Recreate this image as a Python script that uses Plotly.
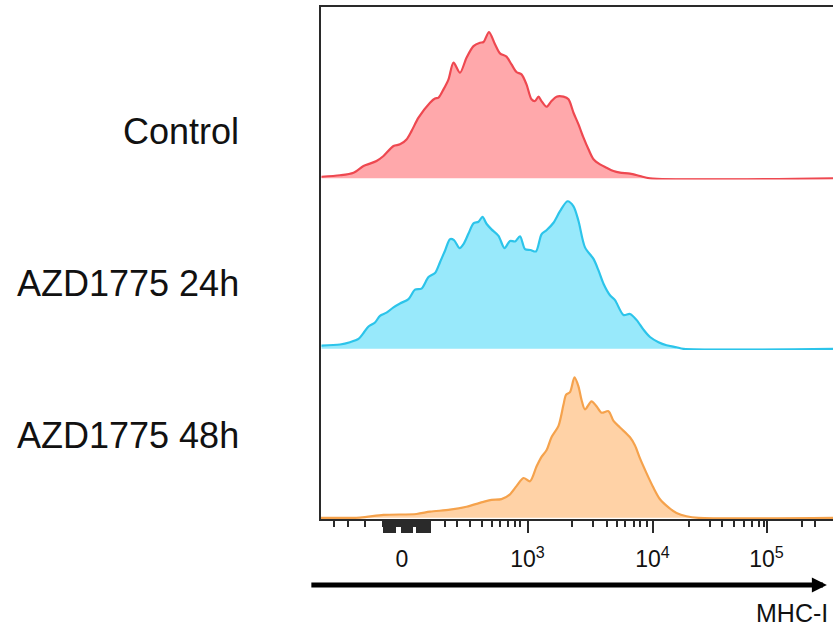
import plotly.graph_objects as go
from plotly.subplots import make_subplots

# Display channel (0-1024 across the plot width, biexponential display)
# and histogram height (% of mode)
ctrl_x = [1, 38, 65, 85, 98, 111, 125, 145, 158, 171, 181, 195, 218, 228, 235, 245, 255, 265, 278, 291,
          305, 318, 325, 336, 348, 358, 371, 381, 391, 401, 411, 421, 428, 435, 441, 451, 461, 471, 485, 495,
          505, 515, 525, 535, 545, 558, 571, 585, 598, 618, 638, 658, 1024]
ctrl_y = [1.1, 2.1, 3.9, 8.5, 10.1, 11.9, 15.3, 22.2, 23.3, 26.7, 32.4, 41.6, 51.9, 54.8, 55.3, 61.0, 67.9, 79.3, 72.4, 82.7,
          90.7, 93.0, 93.5, 100.3, 91.9, 85.7, 83.5, 78.1, 72.9, 71.3, 64.4, 54.2, 53.0, 56.0, 53.0, 49.1, 53.0, 56.0, 56.0, 54.2,
          45.0, 37.0, 27.9, 19.9, 13.1, 9.6, 7.3, 5.0, 3.9, 3.2, 1.6, 0, 0]

azd24_x = [1, 38, 58, 75, 85, 95, 108, 118, 131, 145, 158, 175, 188, 201, 215, 228, 238, 248, 258, 266,
           277, 285, 295, 305, 315, 323, 331, 341, 355, 367, 378, 388, 398, 408, 419, 430, 441, 451, 465, 478,
           493, 505, 515, 528, 545, 555, 565, 578, 588, 605, 618, 631, 645, 658, 675, 691, 711, 725, 1024]
azd24_y = [2.3, 3.0, 4.6, 6.9, 11.0, 15.5, 18.3, 22.9, 25.1, 28.8, 31.5, 34.5, 41.1, 41.8, 49.8, 52.6, 60.1, 68.1, 76.1, 75.4,
           69.9, 72.7, 80.0, 87.1, 88.2, 91.6, 86.8, 82.9, 78.4, 69.9, 74.9, 74.5, 78.1, 69.2, 68.6, 67.6, 79.5, 82.3, 87.5, 95.5,
           102.4, 98.9, 88.7, 70.4, 62.4, 54.4, 45.2, 37.2, 33.8, 23.5, 24.2, 20.1, 13.3, 8.2, 4.6, 2.5, 1.1, 0, 0]

azd48_x = [0, 78, 125, 191, 218, 258, 291, 325, 341, 361, 378, 391, 405, 418, 431, 441, 451, 461, 475, 485, 490,
           498, 507, 515, 521, 528, 541, 551, 561, 575, 585, 598, 618, 628, 638, 651, 665, 678, 695, 711, 731,
           755, 1024]
azd48_y = [0, 0.2, 2.1, 2.7, 4.3, 5.7, 7.8, 11.2, 12.6, 13.1, 16.5, 22.2, 27.9, 25.6, 35.9, 42.7, 47.3, 56.4, 64.4, 79.3, 86.1,
           88.0, 98.3, 91.9, 82.7, 75.9, 81.6, 78.1, 73.6, 74.7, 67.9, 63.3, 56.4, 50.7, 41.6, 31.3, 21.0, 13.0, 7.3, 3.4, 1.1,
           0, 0]

sample_names = ["Control", "AZD1775 24h", "AZD1775 48h"]
line_colors = ["#EE4850", "#2CC4EA", "#F5A24C"]
fill_colors = ["#FFA8AB", "#98E9FB", "#FFD2A6"]

# axis ticks (display channel)
major_tickvals = [162, 413, 663, 891]
major_ticktext = ["0", "10<sup>3</sup>", "10<sup>4</sup>", "10<sup>5</sup>"]
near_zero_long = list(range(125, 149, 2)) + list(range(163, 182, 2)) + list(range(191, 218, 2))
minor_tickvals = ([26, 54, 88] + list(range(124, 219, 2)) +
                  [248, 272, 298, 322, 342, 358, 374, 388, 398] +
                  [501, 544, 571, 591, 608, 625, 638, 651] +
                  [735, 778, 801, 825, 845, 861, 875, 885] +
                  [961, 988])

series = [(ctrl_x, ctrl_y), (azd24_x, azd24_y), (azd48_x, azd48_y)]

fig = make_subplots(rows=3, cols=1, shared_xaxes=True, vertical_spacing=0,
                    row_heights=[172.5, 170.5, 169])
for i, (xs, ys) in enumerate(series):
    fig.add_trace(go.Scatter(
        x=xs, y=ys, mode="lines", fill="tozeroy",
        line=dict(color=line_colors[i], width=2.2, shape="spline", smoothing=0.8),
        fillcolor=fill_colors[i], showlegend=False, hoverinfo="skip"),
        row=i + 1, col=1)

FONT = "Liberation Sans, Arial, sans-serif"
frame = "#2a2a2a"

for r in (1, 2, 3):
    fig.update_yaxes(range=[-0.8, 117.5], showticklabels=False, ticks="", showgrid=False,
                     zeroline=False, showline=True, linecolor=frame, linewidth=1.5,
                     row=r, col=1)
    fig.update_xaxes(range=[0, 1024], showgrid=False, zeroline=False, row=r, col=1)

fig.update_xaxes(side="top", showline=True, linecolor=frame, linewidth=1.5,
                 ticks="", showticklabels=False, row=1, col=1)
fig.update_xaxes(showline=False, ticks="", showticklabels=False, row=2, col=1)

tickvals = major_tickvals + near_zero_long
ticktext = major_ticktext + [""] * len(near_zero_long)
fig.update_xaxes(showline=True, linecolor=frame, linewidth=1.5,
                 tickmode="array", tickvals=tickvals, ticktext=ticktext,
                 ticks="outside", ticklen=12, tickwidth=1.5, tickcolor=frame,
                 ticklabelstandoff=7,
                 tickfont=dict(family=FONT, size=23, color="#111"),
                 minor=dict(tickmode="array", tickvals=minor_tickvals, ticks="outside",
                            ticklen=6, tickwidth=1.5, tickcolor=frame, showgrid=False),
                 row=3, col=1)

label_y = [0.757, 0.459, 0.164]
annotations = []
for name, yy in zip(sample_names, label_y):
    annotations.append(dict(text=name, x=-0.156, y=yy, xref="paper", yref="paper",
                            xanchor="right", yanchor="middle", showarrow=False,
                            font=dict(family=FONT, size=36, color="#111")))

annotations.append(dict(text="", x=0.988, y=-0.129, xref="paper", yref="paper",
                        ax=-517, ay=0, axref="pixel", ayref="pixel", showarrow=True,
                        arrowhead=2, arrowsize=0.6, arrowwidth=5, arrowcolor="#000",
                        standoff=0, startstandoff=0))
annotations.append(dict(text="MHC-I", x=0.994, y=-0.184, xref="paper", yref="paper",
                        xanchor="right", yanchor="middle", showarrow=False,
                        font=dict(family=FONT, size=25, color="#111")))

fig.update_layout(width=833, height=628, margin=dict(l=321, r=0, t=7, b=109),
                  plot_bgcolor="white", paper_bgcolor="white",
                  annotations=annotations)

fig.write_html("out.html", config={"displayModeBar": False},
               post_script="document.body.style.margin='0';document.body.style.overflow='hidden';")
